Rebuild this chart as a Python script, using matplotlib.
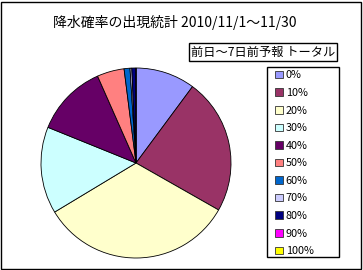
import matplotlib.pyplot as plt
from matplotlib.patches import Rectangle

plt.rcParams['font.family'] = ['Noto Sans CJK JP', 'DejaVu Sans']

# probability classes and their share (%)
labels = ["0%", "10%", "20%", "30%", "40%", "50%", "60%", "70%", "80%", "90%", "100%"]
shares = [10.1, 23.0, 33.0, 14.7, 12.2, 4.6, 1.0, 0.3, 0.7, 0.0, 0.0]
colors = ["#9999FF", "#993366", "#FFFFCC", "#CCFFFF", "#660066", "#FF8080",
          "#0066CC", "#CCCCFF", "#000080", "#FF00FF", "#FFFF00"]

title = "降水確率の出現統計 2010/11/1～11/30"
subtitle = "前日～7日前予報 トータル"

W, H = 363, 270
fig = plt.figure(figsize=(W / 100, H / 100), dpi=100)

# outer frame
fig.patches.append(Rectangle((1 / W, 1 / H), 1 - 3 / W, 1 - 3 / H, transform=fig.transFigure,
                             fill=False, edgecolor="black", linewidth=1))

# pie: centre (136,163) px, radius 95 px
cx, cy, r = 136, 163, 95
ax = fig.add_axes([(cx - r) / W, (H - cy - r) / H, 2 * r / W, 2 * r / H])
wedges, _ = ax.pie(shares, colors=colors, startangle=90, counterclock=False,
                   wedgeprops=dict(edgecolor="black", linewidth=0.6), radius=1)
ax.set_xlim(-1, 1)
ax.set_ylim(-1, 1)
ax.set_aspect("equal")

fig.text(175 / W, 1 - 23 / H, title, ha="center", va="center", fontsize=10)
fig.text(263 / W, 1 - 52 / H, subtitle, ha="center", va="center", fontsize=8.8,
         bbox=dict(boxstyle="square,pad=0.18", facecolor="white", edgecolor="black", linewidth=1))

# legend frame drawn separately, entries placed inside
fig.patches.append(Rectangle((267 / W, 1 - 257 / H), 72 / W, 190 / H, transform=fig.transFigure,
                             fill=False, edgecolor="black", linewidth=1))
handles = [Rectangle((0, 0), 1, 1, facecolor=c, edgecolor="#333333", linewidth=0.6) for c in colors]
leg = fig.legend(handles, labels, loc="upper left", bbox_to_anchor=(271 / W, 1 - 66 / H),
                 fontsize=7.8, frameon=False,
                 handlelength=0.7, handleheight=0.7, handletextpad=0.25,
                 labelspacing=0.7, borderpad=0.4, borderaxespad=0)

fig.savefig("out.png", dpi=100)
